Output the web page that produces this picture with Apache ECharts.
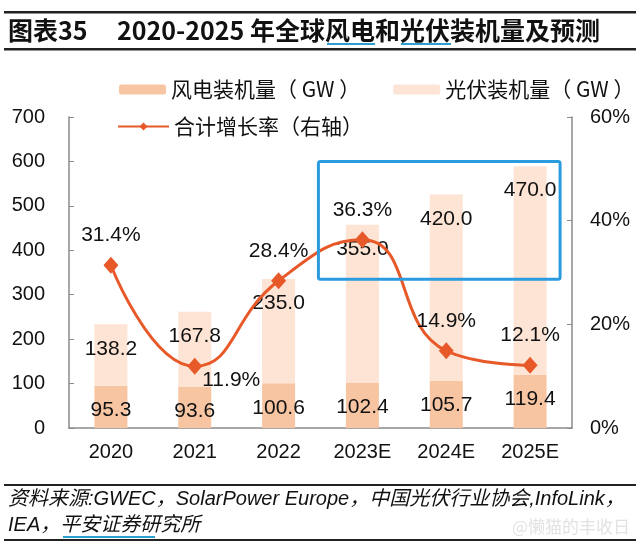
<!DOCTYPE html>
<html>
<head>
<meta charset="utf-8">
<script src="https://cdn.jsdelivr.net/npm/echarts@6/dist/echarts.min.js"></script>
<style>html,body{margin:0;padding:0;background:#fff;}#c{width:640px;height:552px;}</style>
</head>
<body>
<div id="c"></div>
<script>
const categories = ['2020', '2021', '2022', '2023E', '2024E', '2025E'];
const windValues = [95.3, 93.6, 100.6, 102.4, 105.7, 119.4];
const solarValues = [138.2, 167.8, 235.0, 355.0, 420.0, 470.0];
const growthRates = [31.4, 11.9, 28.4, 36.3, 14.9, 12.1];
const leftTicks = { min: 0, max: 700, interval: 100 };
const rightTicks = { min: 0, max: 60, interval: 20 };

const FONT = '"Liberation Sans", Arial, "Noto Sans CJK SC", sans-serif';
const CJK = '"Noto Sans CJK SC", "Liberation Sans", sans-serif';
const WIND = '#f8c5a2';
const SOLAR = '#fde4d4';
const LINE = '#e8592a';
const AXIS = '#8a8a8a';

const chart = echarts.init(document.getElementById('c'), null, { renderer: 'canvas' });

const rateData = growthRates.map((v, i) => {
  if (i === 1) {
    return { value: v, label: { position: 'right', distance: 0, offset: [0, 14] } };
  }
  return v;
});

const option = {
  animation: false,
  backgroundColor: '#fff',
  textStyle: { fontFamily: FONT },
  grid: { left: 69, right: 68, top: 117, bottom: 124 },
  legend: [
    {
      left: 114, top: 74,
      itemWidth: 47, itemHeight: 10, itemGap: 33,
      textStyle: { fontSize: 21, color: '#111', fontFamily: CJK },
      data: ['风电装机量（ GW ）', '光伏装机量（ GW ）']
    },
    {
      left: 112, top: 111,
      itemWidth: 51, itemHeight: 10,
      textStyle: { fontSize: 21, color: '#111', fontFamily: CJK },
      data: ['合计增长率（右轴）']
    }
  ],
  xAxis: {
    type: 'category',
    data: categories,
    axisLine: { lineStyle: { color: AXIS, width: 1.5 } },
    axisTick: { show: false },
    axisLabel: { fontSize: 20, color: '#111', margin: 14, fontFamily: FONT }
  },
  yAxis: [
    {
      type: 'value', min: leftTicks.min, max: leftTicks.max, interval: leftTicks.interval,
      axisLine: { show: true, lineStyle: { color: AXIS, width: 1.5 } },
      axisTick: { show: true, inside: true, length: 5, lineStyle: { color: AXIS } },
      splitLine: { show: false },
      axisLabel: { fontSize: 20, color: '#111', margin: 24, fontFamily: FONT }
    },
    {
      type: 'value', min: rightTicks.min, max: rightTicks.max, interval: rightTicks.interval,
      axisLine: { show: true, lineStyle: { color: AXIS, width: 1.5 } },
      axisTick: { show: true, inside: true, length: 5, lineStyle: { color: AXIS } },
      splitLine: { show: false },
      axisLabel: { fontSize: 20, color: '#111', margin: 18, formatter: '{value}%', fontFamily: FONT }
    }
  ],
  series: [
    {
      name: '风电装机量（ GW ）', type: 'bar', stack: 'total', barWidth: 33,
      data: windValues,
      itemStyle: { color: WIND },
      label: { show: true, position: 'insideTop', distance: 14, fontSize: 21, color: '#111', fontFamily: FONT,
               formatter: p => p.value.toFixed(1) }
    },
    {
      name: '光伏装机量（ GW ）', type: 'bar', stack: 'total', barWidth: 33,
      data: solarValues,
      itemStyle: { color: SOLAR },
      label: { show: true, position: 'insideTop', distance: 14, fontSize: 21, color: '#111', fontFamily: FONT,
               formatter: p => p.value.toFixed(1) }
    },
    {
      name: '合计增长率（右轴）', type: 'line', yAxisIndex: 1, smooth: 0.5,
      data: rateData,
      symbol: 'diamond', symbolSize: [15, 17],
      lineStyle: { color: LINE, width: 3 },
      itemStyle: { color: LINE },
      label: { show: true, position: 'top', distance: 11, fontSize: 21, color: '#111', fontFamily: FONT,
               formatter: p => p.value.toFixed(1) + '%' },
      z: 5
    }
  ]
};
chart.setOption(option);

// Annotation box and page decorations
const tl = chart.convertToPixel({ xAxisIndex: 0, yAxisIndex: 0 }, ['2023E', 600]);
const br = chart.convertToPixel({ xAxisIndex: 0, yAxisIndex: 0 }, ['2025E', 335]);
const BLUE = '#2b9be0';
chart.setOption({
  graphic: [
    { type: 'rect', z: 10, shape: { x: tl[0] - 44, y: tl[1], width: (br[0] + 30) - (tl[0] - 44), height: br[1] - tl[1], r: 2 },
      style: { fill: 'none', stroke: BLUE, lineWidth: 3 } },
    // title rules
    { type: 'rect', shape: { x: 4, y: 11, width: 632, height: 2.5 }, style: { fill: '#222' } },
    { type: 'rect', shape: { x: 4, y: 48, width: 632, height: 2.5 }, style: { fill: '#222' } },
    { type: 'text', left: 8, top: 18,
      style: { text: '图表35', font: 'bold 25px "Noto Sans CJK SC", "Liberation Sans", sans-serif', fill: '#111' } },
    { type: 'text', left: 117, top: 18,
      style: { text: '2020-2025 年全球风电和光伏装机量及预测', font: 'bold 25px "Noto Sans CJK SC", "Liberation Sans", sans-serif', fill: '#111' } },
    { type: 'rect', shape: { x: 327, y: 43, width: 48, height: 2 }, style: { fill: '#2a9fd0' } },
    { type: 'rect', shape: { x: 401, y: 43, width: 50, height: 2 }, style: { fill: '#2a9fd0' } },
    // source rules
    { type: 'rect', shape: { x: 4, y: 484, width: 632, height: 2 }, style: { fill: '#222' } },
    { type: 'rect', shape: { x: 4, y: 539, width: 632, height: 2 }, style: { fill: '#222' } },
    { type: 'text', left: 8, top: 489,
      style: { text: '资料来源:GWEC，SolarPower Europe，中国光伏行业协会,InfoLink，', font: 'italic 20px "Liberation Sans", "Noto Sans CJK SC", sans-serif', fill: '#111' } },
    { type: 'text', left: 8, top: 515,
      style: { text: 'IEA，平安证券研究所', font: 'italic 20px "Liberation Sans", "Noto Sans CJK SC", sans-serif', fill: '#111' } },
    { type: 'rect', shape: { x: 63, y: 536, width: 92, height: 2 }, style: { fill: '#2a9fd0' } },
    { type: 'text', right: 10, top: 518,
      style: { text: '@懒猫的丰收日', font: '17px "Noto Sans CJK SC", sans-serif', fill: '#e2e2e2' } }
  ]
});
</script>
</body>
</html>
